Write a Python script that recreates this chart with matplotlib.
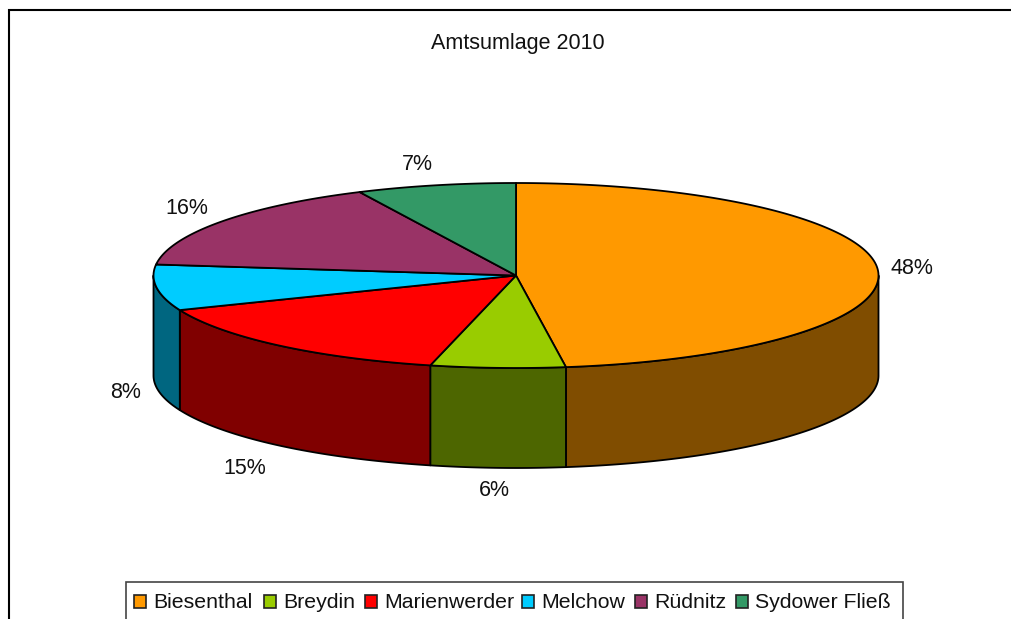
import numpy as np
import matplotlib
matplotlib.use('Agg')
import matplotlib.pyplot as plt
from matplotlib.patches import Polygon, Rectangle

plt.rcParams['font.family'] = ['Liberation Sans', 'DejaVu Sans']

gemeinden = ['Biesenthal', 'Breydin', 'Marienwerder', 'Melchow', 'Rüdnitz', 'Sydower Fließ']
anteile = [47.8, 6.0, 15.1, 8.0, 16.0, 7.1]
farben = ['#FF9900', '#99CC00', '#FF0000', '#00CCFF', '#993366', '#339966']
seiten = ['#804D00', '#4D6600', '#800000', '#006680', '#4D1A33', '#1A4D33']
titel = 'Amtsumlage 2010'

# layout in pixels of the picture
cx, cy, rx, ry, tiefe = 516, 275.5, 362.5, 92.5, 100
label_pos = [(912, 269), (494, 491), (245, 468), (126, 392), (187, 208), (417, 165)]
legend_x = [134, 264, 365, 522, 635, 736]

fig = plt.figure(figsize=(10.12, 6.19), dpi=100)
ax = fig.add_axes([0, 0, 1, 1])
ax.set_xlim(0, 1012)
ax.set_ylim(619, 0)
ax.axis('off')

# chart frame, runs off the right and bottom edge
ax.plot([9.5, 9.5, 1012], [619, 10, 10], color='black', lw=1.5, solid_joinstyle='miter')


def rand(a, b):
    t = np.radians(np.linspace(a, b, max(int(abs(b - a) * 2), 2)))
    return cx + rx * np.sin(t), cy - ry * np.cos(t)


grenzen = np.cumsum([0] + anteile) / sum(anteile) * 360

# side walls first, only the front half of the disc is visible
for i in range(len(anteile)):
    a = max(grenzen[i], 90)
    b = min(grenzen[i + 1], 270)
    if a >= b:
        continue
    x, y = rand(a, b)
    xs = np.r_[x, x[::-1]]
    ys = np.r_[y, y[::-1] + tiefe]
    ax.add_patch(Polygon(np.c_[xs, ys], fc=seiten[i], ec='black', lw=1.3, joinstyle='round'))

# top of the disc
for i in range(len(anteile)):
    x, y = rand(grenzen[i], grenzen[i + 1])
    xs = np.r_[cx, x]
    ys = np.r_[cy, y]
    ax.add_patch(Polygon(np.c_[xs, ys], fc=farben[i], ec='black', lw=1.3, joinstyle='round'))

for wert, (px, py) in zip(anteile, label_pos):
    ax.text(px, py, f'{wert:.0f}%', fontsize=15.5, ha='center', va='center', color='#111111')

ax.text(518, 43, titel, fontsize=15.5, ha='center', va='center', color='#111111')

# legend box is cut by the lower edge
ax.add_patch(Rectangle((126, 581.5), 777, 60, fc='white', ec='#444444', lw=1.2))
for name, farbe, lx in zip(gemeinden, farben, legend_x):
    ax.add_patch(Rectangle((lx, 595), 12.5, 12.5, fc=farbe, ec='#222222', lw=1.2))
    ax.text(lx + 19, 608, name, fontsize=15.3, ha='left', va='baseline', color='#111111')

fig.savefig('out.png', dpi=100)
